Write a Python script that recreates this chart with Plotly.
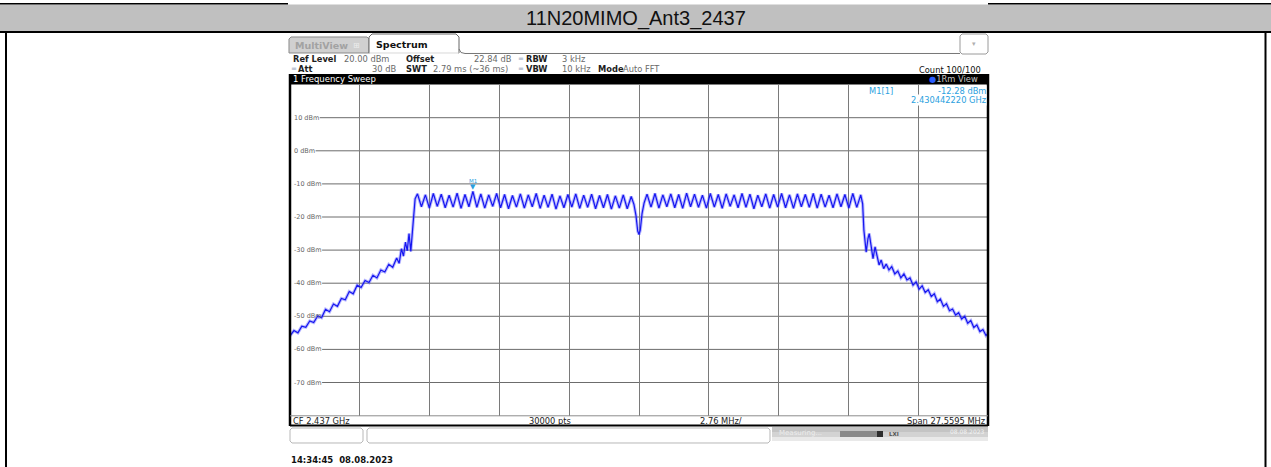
import plotly.graph_objects as go

W, H = 1271, 467

# ---------------- data ----------------
span_start_mhz = 2423.22025
span_stop_mhz = 2450.77975
div_mhz = 2.75595
ref_top_dbm = 20
ref_bottom_dbm = -80

y_ticks = [10, 0, -10, -20, -30, -40, -50, -60, -70]
y_tick_labels = ["10 dBm", "0 dBm", "-10 dBm", "-20 dBm", "-30 dBm",
                 "-40 dBm", "-50 dBm", "-60 dBm", "-70 dBm"]

left_skirt_f = [2423.220, 2423.376, 2423.532, 2423.688, 2423.844, 2424.000, 2424.156,
                2424.312, 2424.468, 2424.624, 2424.780, 2424.936, 2425.092, 2425.248,
                2425.404, 2425.560, 2425.716, 2425.872, 2426.028, 2426.184, 2426.340,
                2426.496, 2426.652, 2426.808, 2426.964, 2427.120, 2427.276, 2427.432,
                2427.530, 2427.620, 2427.700, 2427.780, 2427.850, 2427.920, 2427.990,
                2428.060, 2428.120, 2428.160]
left_skirt_db = [-55.9, -54.3, -55.0, -53.0, -53.3, -51.4, -51.9,
                 -49.9, -50.4, -47.9, -48.6, -46.3, -47.0, -44.6,
                 -45.0, -42.5, -43.2, -40.6, -41.3, -39.2, -39.8,
                 -37.6, -38.4, -36.0, -36.6, -34.3, -35.2, -32.4,
                 -34.0, -29.6, -31.8, -27.6, -30.2, -25.0, -30.4,
                 -24.0, -17.0, -14.5]

left_peak_f = [2428.254, 2428.567, 2428.879, 2429.192, 2429.504, 2429.817, 2430.129,
               2430.442, 2430.754, 2431.067, 2431.379, 2431.692, 2432.004, 2432.317,
               2432.629, 2432.942, 2433.254, 2433.567, 2433.879, 2434.192, 2434.504,
               2434.817, 2435.129, 2435.442, 2435.754, 2436.067, 2436.379, 2436.692]
left_peak_db = [-13.0, -13.3, -12.9, -13.1, -13.4, -12.8, -13.2, -12.28, -13.0, -13.3,
                -12.9, -13.2, -13.5, -13.0, -13.3, -12.9, -13.4, -13.1, -13.6, -13.2,
                -13.0, -13.4, -13.1, -13.5, -13.2, -13.6, -13.3, -13.8]
left_valley_f = [2428.410, 2428.723, 2429.035, 2429.348, 2429.660, 2429.973, 2430.285,
                 2430.598, 2430.910, 2431.223, 2431.535, 2431.848, 2432.160, 2432.473,
                 2432.785, 2433.098, 2433.410, 2433.723, 2434.035, 2434.348, 2434.660,
                 2434.973, 2435.285, 2435.598, 2435.910, 2436.223, 2436.535]
left_valley_db = [-16.9, -17.3, -16.8, -17.2, -17.0, -17.4, -16.9, -17.1, -17.3, -16.8,
                  -17.2, -17.5, -17.0, -17.3, -16.9, -17.4, -17.1, -17.6, -17.2, -17.0,
                  -17.4, -17.1, -17.5, -17.2, -17.6, -17.3, -17.5]

dip_f = [2436.800, 2436.880, 2436.950, 2437.000, 2437.050, 2437.120, 2437.200]
dip_db = [-16.2, -19.5, -24.3, -25.3, -24.0, -19.0, -15.8]

right_peak_f = [2437.317, 2437.630, 2437.942, 2438.255, 2438.567, 2438.880, 2439.192,
                2439.505, 2439.817, 2440.130, 2440.442, 2440.755, 2441.067, 2441.380,
                2441.692, 2442.005, 2442.317, 2442.630, 2442.942, 2443.255, 2443.567,
                2443.880, 2444.192, 2444.505, 2444.817, 2445.130, 2445.442, 2445.755]
right_peak_db = [-13.1, -12.9, -13.3, -13.0, -13.2, -12.8, -13.1, -13.4, -12.9, -13.2,
                 -13.0, -13.3, -12.9, -13.1, -13.4, -13.0, -13.2, -12.9, -13.3, -13.0,
                 -13.2, -12.9, -13.1, -13.4, -13.0, -13.2, -12.9, -13.3]
right_valley_f = [2437.474, 2437.786, 2438.099, 2438.411, 2438.724, 2439.036, 2439.349,
                  2439.661, 2439.974, 2440.286, 2440.599, 2440.911, 2441.224, 2441.536,
                  2441.849, 2442.161, 2442.474, 2442.786, 2443.099, 2443.411, 2443.724,
                  2444.036, 2444.349, 2444.661, 2444.974, 2445.286, 2445.599]
right_valley_db = [-17.0, -17.3, -16.9, -17.2, -17.4, -16.9, -17.1, -17.3, -17.0, -17.4,
                   -16.8, -17.2, -17.1, -17.5, -16.9, -17.3, -17.0, -17.2, -17.4, -16.9,
                   -17.1, -17.3, -17.0, -17.2, -16.9, -17.3, -17.1]

right_skirt_f = [2445.830, 2445.880, 2445.930, 2445.970, 2446.040, 2446.090, 2446.160,
                 2446.240, 2446.320, 2446.400, 2446.480, 2446.560, 2446.660, 2446.760,
                 2446.870, 2446.980, 2447.100, 2447.220, 2447.340, 2447.460, 2447.580,
                 2447.700, 2447.820, 2447.940, 2448.060, 2448.180, 2448.300, 2448.420,
                 2448.540, 2448.660, 2448.780, 2448.900, 2449.020, 2449.140, 2449.260,
                 2449.380, 2449.500, 2449.620, 2449.740, 2449.860, 2449.980, 2450.100,
                 2450.220, 2450.340, 2450.460, 2450.580, 2450.700, 2450.780]
right_skirt_db = [-16.0, -24.0, -27.5, -30.6, -26.5, -25.0, -28.5,
                  -32.6, -29.0, -31.8, -34.5, -33.0, -35.6, -34.2,
                  -36.0, -35.0, -37.2, -36.3, -38.4, -37.2, -39.0,
                  -38.4, -40.6, -39.6, -41.8, -40.8, -42.8, -42.0,
                  -44.0, -43.2, -45.6, -44.8, -47.0, -46.2, -48.3,
                  -47.8, -49.6, -48.9, -50.8, -50.0, -52.1, -51.3,
                  -53.4, -52.6, -54.6, -54.0, -55.8, -55.2]

m1_f = 2430.44222
m1_dbm = -12.28


def interleave(pf, pd, vf, vd):
    xs, ys = [], []
    for i in range(len(pf)):
        xs.append(pf[i]); ys.append(pd[i])
        if i < len(vf):
            xs.append(vf[i]); ys.append(vd[i])
    return xs, ys


lx, ly = interleave(left_peak_f, left_peak_db, left_valley_f, left_valley_db)
rx, ry = interleave(right_peak_f, right_peak_db, right_valley_f, right_valley_db)
trace_f = left_skirt_f + lx + dip_f + rx + right_skirt_f
trace_db = left_skirt_db + ly + dip_db + ry + right_skirt_db

# ---------------- layout helpers ----------------
def px(x):
    return x / W


def py(y):
    return 1 - y / H


PL, PR, PT, PB = 290, 988, 84.6, 415.6   # plot area in pixels

shapes = []
annotations = []


def rect(x0, y0, x1, y1, fill, line=None, lw=0):
    shapes.append(dict(type="rect", xref="paper", yref="paper",
                       x0=px(x0), x1=px(x1), y0=py(y1), y1=py(y0),
                       fillcolor=fill, line=dict(color=line or fill, width=lw),
                       layer="below"))


def hline(x0, x1, y, color, w):
    shapes.append(dict(type="line", xref="paper", yref="paper",
                       x0=px(x0), x1=px(x1), y0=py(y), y1=py(y),
                       line=dict(color=color, width=w), layer="above"))


def vline(x, y0, y1, color, w, layer="above"):
    shapes.append(dict(type="line", xref="paper", yref="paper",
                       x0=px(x), x1=px(x), y0=py(y0), y1=py(y1),
                       line=dict(color=color, width=w), layer=layer))


def path(points, color, w, fill=None, close=False):
    s = "M " + " L ".join("%.6f,%.6f" % (px(a), py(b)) for a, b in points)
    if close:
        s += " Z"
    shapes.append(dict(type="path", xref="paper", yref="paper", path=s,
                       line=dict(color=color, width=w),
                       fillcolor=fill if fill else "rgba(0,0,0,0)", layer="below"))


def txt(x, y, s, size=9, color="#222", anchor="left", family="DejaVu Sans", bg=None):
    d = dict(xref="paper", yref="paper", x=px(x), y=py(y), text=s, showarrow=False,
             xanchor=anchor, yanchor="middle", borderpad=0,
             font=dict(size=size, color=color, family=family))
    if bg:
        d["bgcolor"] = bg
    annotations.append(d)


# ---------------- outer table frame ----------------
hline(0, 288, 3.8, "#000", 1.6)
hline(988, W, 3.8, "#000", 1.6)
rect(0, 4.6, W, 31, "#c0c0c0")
hline(0, W, 32, "#000", 2)
vline(6, 32, H, "#000", 2)
vline(1265.5, 32, H, "#000", 2)
txt(636, 18.5, "11N20MIMO_Ant3_2437", size=20, color="#111",
    anchor="center", family="Liberation Sans")

# ---------------- tabs ----------------
path([(289, 53), (289, 39), (291, 37), (367, 37), (369, 39), (369, 53)],
     "#8a8a8a", 1, fill="#d0d0d0", close=True)
txt(294, 45.5, "<b>MultiView</b>", size=9.5, color="#a2a2a2")
txt(352, 45, "⊞", size=8, color="#ededed")
path([(369, 53), (369, 37), (372, 34), (456, 34), (459, 37), (459, 53)],
     "#666", 1, fill="#ffffff", close=True)
hline(369.5, 458.5, 53, "#ffffff", 1.5)
path([(459, 49), (461, 52.5), (465, 53.5), (960, 53.5)], "#777", 1)
txt(375, 44.5, "<b>Spectrum</b>", size=9.5, color="#111")
path([(960, 36), (962, 34), (986, 34), (988, 36), (988, 52), (986, 54), (962, 54),
      (960, 52)], "#9a9a9a", 1, fill="#ffffff", close=True)
txt(974, 44, "▾", size=7, color="#b0b0b0", anchor="center")

# ---------------- info rows ----------------
lab = "#1e1e1e"
val = "#6a6a6a"
fs = 8.3
txt(292, 59.5, "<b>Ref Level</b>", size=fs, color=lab)
txt(343, 59.5, "20.00 dBm", size=fs, color=val)
txt(405, 59.5, "<b>Offset</b>", size=fs, color=lab)
txt(513, 59.5, "22.84 dB", size=fs, color=val, anchor="right")
txt(517, 59.5, "=", size=7, color="#8fa0b8")
txt(525, 59.5, "<b>RBW</b>", size=fs, color=lab)
txt(561, 59.5, "3 kHz", size=fs, color=val)
txt(289.5, 68.5, "=", size=7, color="#8fa0b8")
txt(297, 68.5, "<b>Att</b>", size=fs, color=lab)
txt(397, 68.5, "30 dB", size=fs, color=val, anchor="right")
txt(405, 68.5, "<b>SWT</b>", size=fs, color=lab)
txt(432, 68.5, "2.79 ms (~36 ms)", size=fs, color=val)
txt(517, 68.5, "=", size=7, color="#8fa0b8")
txt(525, 68.5, "<b>VBW</b>", size=fs, color=lab)
txt(561, 68.5, "10 kHz", size=fs, color=val)
txt(597, 68.5, "<b>Mode</b>", size=fs, color=lab)
txt(622, 68.5, "Auto FFT", size=fs, color=val)
txt(982, 69.5, "Count 100/100", size=fs, color="#111", anchor="right")

# ---------------- header bar ----------------
rect(289, 74, 989, PT, "#000000")
txt(292, 79.5, "1 Frequency Sweep", size=8.5, color="#ffffff")
txt(928, 79.5, "<span style='color:#2a5cff'>●</span>1Rm View", size=8.3,
    color="#c8c8c8")

# ---------------- plot borders / bottom bar ----------------
vline(PL, 74, 426, "#000", 2.5)
vline(PR, 74, 426, "#000", 2.5)
hline(PL, PR, 415.8, "#8c8c8c", 1)
hline(PL, PR, 425.5, "#000", 2)
txt(292, 420.5, "CF 2.437 GHz", size=fs, color="#222")
txt(528, 420.5, "30000 pts", size=fs, color="#222")
txt(699, 420.5, "2.76 MHz/", size=fs, color="#222")
txt(986, 420.5, "Span 27.5595 MHz", size=fs, color="#222", anchor="right")

# ---------------- lower status boxes ----------------
path([(290, 430), (292, 428), (361, 428), (363, 430), (363, 441), (361, 443), (292, 443),
      (290, 441)], "#b8b8b8", 1, fill="#ffffff", close=True)
path([(367, 430), (369, 428), (768, 428), (770, 430), (770, 441), (768, 443), (369, 443),
      (367, 441)], "#b8b8b8", 1, fill="#ffffff", close=True)
rect(772, 427, 988, 432, "#c4c4c4")
rect(772, 432, 988, 437, "#d3d3d3")
rect(772, 437, 988, 441, "#e9e9e9")
rect(840, 431, 877, 437, "#8a8a8a")
rect(877, 431, 883, 437, "#2e2e2e")
txt(888, 434, "<b>LXI</b>", size=5.5, color="#555")
txt(778, 433, "Measuring...", size=7, color="#ececec")
txt(986, 431, "08.08.2023", size=6, color="#f2f2f2", anchor="right")
txt(290, 460, "<b>14:34:45  08.08.2023</b>", size=8.5, color="#111")

# ---------------- y tick labels and grid ----------------
cw = {"-": 0.361, " ": 0.318, "d": 0.635, "B": 0.686, "m": 0.974}
lab_size = 6.5
for v, s in zip(y_ticks, y_tick_labels):
    wpx = sum(cw.get(c, 0.636) for c in s) * lab_size + 1.5
    shapes.append(dict(type="line", xref="paper", yref="y",
                       x0=px(293 + wpx), x1=px(PR), y0=v, y1=v,
                       line=dict(color="#6c6c6c", width=1), layer="below"))
    annotations.append(dict(xref="paper", yref="y", x=px(293), y=v, text=s,
                            showarrow=False, xanchor="left", yanchor="middle",
                            borderpad=0,
                            font=dict(size=lab_size, color="#666",
                                      family="DejaVu Sans")))

# ---------------- marker ----------------
mcol = "#2b9fe0"
annotations.append(dict(xref="x", yref="y", x=m1_f, y=m1_dbm, text="▼",
                        showarrow=False, xanchor="center", yanchor="bottom",
                        yshift=-1, borderpad=0,
                        font=dict(size=7, color=mcol, family="DejaVu Sans")))
annotations.append(dict(xref="x", yref="y", x=m1_f, y=m1_dbm, text="M1",
                        showarrow=False, xanchor="center", yanchor="bottom",
                        yshift=6, borderpad=0,
                        font=dict(size=5.5, color=mcol, family="DejaVu Sans")))
txt(868, 91, "M1[1]", size=fs, color=mcol)
txt(987, 91, "-12.28 dBm", size=fs, color=mcol, anchor="right", bg="#ffffff")
txt(987, 100, "2.430442220 GHz", size=fs, color=mcol, anchor="right", bg="#ffffff")

# ---------------- figure ----------------
fig = go.Figure()
fig.add_trace(go.Scatter(x=trace_f, y=trace_db, mode="lines",
                         line=dict(color="rgba(80,80,255,0.4)", width=3.2),
                         hoverinfo="skip"))
fig.add_trace(go.Scatter(x=trace_f, y=trace_db, mode="lines",
                         line=dict(color="#1616f0", width=1.2),
                         hoverinfo="skip"))

fig.update_layout(
    width=W, height=H,
    margin=dict(l=0, r=0, t=0, b=0),
    paper_bgcolor="#ffffff", plot_bgcolor="#ffffff",
    showlegend=False,
    shapes=shapes,
    annotations=annotations,
    xaxis=dict(domain=[px(PL), px(PR)], range=[span_start_mhz, span_stop_mhz],
               showticklabels=False, showgrid=True, gridcolor="#7a7a7a", gridwidth=1,
               tick0=span_start_mhz, dtick=div_mhz, ticks="", zeroline=False,
               showline=False, fixedrange=True),
    yaxis=dict(domain=[py(PB), py(PT)], range=[ref_bottom_dbm, ref_top_dbm],
               showticklabels=False, showgrid=False, ticks="", zeroline=False,
               showline=False, fixedrange=True),
)

fig.write_html("out.html", config={"displayModeBar": False},
               post_script="document.body.style.margin='0';document.body.style.padding='0';")
